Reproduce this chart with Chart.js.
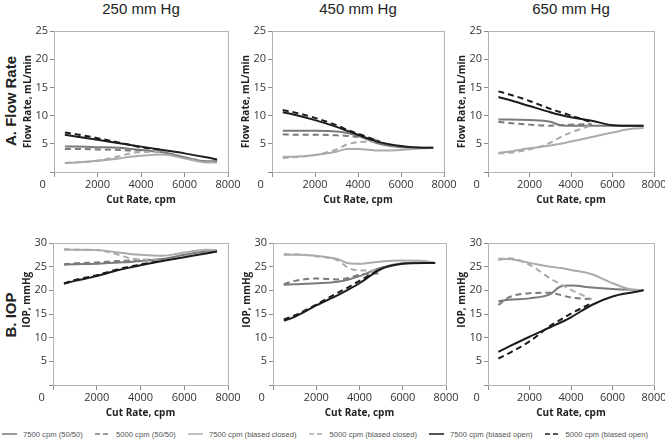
<!DOCTYPE html>
<html>
<head>
<meta charset="utf-8">
<script src="https://cdn.jsdelivr.net/npm/chart.js@4.4.1/dist/chart.umd.min.js"></script>
<style>
  body { margin: 0; background: #fff; width: 665px; height: 440px; position: relative; overflow: hidden; font-family: "Liberation Sans", Arial, sans-serif; }
  canvas { position: absolute; }
  .colTitle { position: absolute; top: 0; font-size: 15px; line-height: 17px; color: #222; transform: translateX(-50%); white-space: nowrap; }
  .rowTitle { position: absolute; font-size: 15px; font-weight: bold; color: #222; white-space: nowrap; transform: translate(-50%, -50%) rotate(-90deg); }
  #legend { position: absolute; left: 2px; top: 428px; width: 646px; height: 12px; display: flex; justify-content: space-between; color: #555; }
  .item { display: flex; align-items: center; white-space: nowrap; }
  .item svg { margin-right: 6px; }
</style>
</head>
<body>
<div id="titles"></div>
<div id="legend"></div>
<script>
// cut rates (cpm) where the curves were read
const cutRate7500 = [500, 1000, 2000, 3000, 3500, 4000, 5000, 6000, 7000, 7500];
const cutRate5000 = [500, 1000, 2000, 3000, 3500, 4000, 5000];
const pressures = ['250 mm Hg', '450 mm Hg', '650 mm Hg'];
const seriesNames = ['7500 cpm (50/50)', '5000 cpm (50/50)', '7500 cpm (biased closed)',
                     '5000 cpm (biased closed)', '7500 cpm (biased open)', '5000 cpm (biased open)'];

// A. Flow rate, mL/min
const flow250_7500_5050   = [4.5, 4.5, 4.4, 4.3, 4.1, 3.9, 3.5, 2.6, 1.9, 1.9];
const flow250_5000_5050   = [4.1, 4.1, 4.0, 3.9, 3.8, 3.8, 3.6];
const flow250_7500_closed = [1.6, 1.7, 2.0, 2.4, 2.7, 2.9, 3.1, 2.4, 1.7, 1.7];
const flow250_5000_closed = [1.6, 1.7, 2.0, 2.8, 3.3, 3.5, 3.6];
const flow250_7500_open   = [6.6, 6.3, 5.7, 5.1, 4.8, 4.5, 3.9, 3.3, 2.6, 2.2];
const flow250_5000_open   = [7.0, 6.7, 6.0, 5.2, 4.8, 4.4, 3.9];

const flow450_7500_5050   = [7.3, 7.3, 7.3, 7.2, 6.9, 6.4, 5.0, 4.4, 4.3, 4.3];
const flow450_5000_5050   = [6.7, 6.6, 6.6, 6.5, 6.4, 6.2, 5.5];
const flow450_7500_closed = [2.7, 2.7, 3.0, 3.6, 4.1, 4.1, 3.8, 3.9, 4.2, 4.3];
const flow450_5000_closed = [2.5, 2.6, 3.0, 4.0, 4.9, 5.3, 5.4];
const flow450_7500_open   = [10.6, 10.2, 9.2, 8.0, 7.3, 6.6, 5.3, 4.6, 4.3, 4.3];
const flow450_5000_open   = [11.0, 10.6, 9.6, 8.3, 7.5, 6.8, 5.4];

const flow650_7500_5050   = [9.3, 9.3, 9.2, 8.9, 8.3, 8.2, 8.2, 8.2, 8.2, 8.2];
const flow650_5000_5050   = [8.9, 8.7, 8.4, 8.2, 8.3, 8.4, 8.5];
const flow650_7500_closed = [3.4, 3.6, 4.2, 4.7, 5.0, 5.4, 6.2, 7.0, 7.7, 7.8];
const flow650_5000_closed = [3.3, 3.4, 4.0, 5.2, 6.2, 7.0, 8.3];
const flow650_7500_open   = [13.3, 12.8, 11.7, 10.6, 10.1, 9.7, 9.1, 8.3, 8.2, 8.2];
const flow650_5000_open   = [14.3, 13.8, 12.6, 11.2, 10.6, 10.0, 8.8];

// B. IOP, mmHg
const iop250_7500_5050   = [25.4, 25.5, 25.6, 25.9, 26.0, 26.2, 26.6, 27.5, 28.2, 28.3];
const iop250_5000_5050   = [25.5, 25.7, 25.9, 26.2, 26.3, 26.4, 26.5];
const iop250_7500_closed = [28.6, 28.6, 28.5, 28.0, 27.7, 27.5, 27.3, 28.0, 28.6, 28.5];
const iop250_5000_closed = [28.7, 28.6, 28.5, 27.5, 26.8, 26.5, 26.5];
const iop250_7500_open   = [21.4, 22.0, 23.0, 24.3, 24.8, 25.3, 26.2, 27.0, 27.8, 28.2];
const iop250_5000_open   = [21.5, 22.2, 23.2, 24.5, 25.0, 25.5, 26.2];

const iop450_7500_5050   = [21.2, 21.3, 21.5, 21.8, 22.3, 23.0, 24.8, 25.7, 25.9, 25.8];
const iop450_5000_5050   = [21.3, 22.0, 22.5, 22.3, 22.6, 23.3, 23.6];
const iop450_7500_closed = [27.5, 27.5, 27.3, 26.6, 25.7, 25.6, 26.1, 26.3, 26.2, 25.8];
const iop450_5000_closed = [27.6, 27.6, 27.2, 26.3, 24.7, 24.2, 24.2];
const iop450_7500_open   = [13.6, 14.4, 16.8, 19.0, 20.2, 21.5, 24.5, 25.6, 25.8, 25.8];
const iop450_5000_open   = [13.8, 14.7, 17.0, 19.5, 20.7, 22.0, 24.6];

const iop650_7500_5050   = [17.7, 18.0, 18.3, 19.2, 20.8, 21.0, 20.6, 20.3, 20.1, 20.0];
const iop650_5000_5050   = [16.9, 18.5, 19.4, 19.5, 19.0, 18.5, 18.1];
const iop650_7500_closed = [26.7, 26.6, 25.8, 25.0, 24.7, 24.3, 23.4, 21.5, 20.1, 20.0];
const iop650_5000_closed = [26.4, 26.8, 25.4, 22.5, 21.3, 20.1, 18.1];
const iop650_7500_open   = [7.0, 8.1, 10.2, 12.2, 13.2, 14.3, 16.9, 18.7, 19.6, 20.0];
const iop650_5000_open   = [5.6, 6.7, 9.2, 12.5, 13.8, 15.1, 17.3];

// line look for each series, same order as seriesNames
const seriesColors = ['#7a7a7a', '#7a7a7a', '#ababab', '#ababab', '#1c1c1c', '#1c1c1c'];
const seriesDashed = [false, true, false, true, false, true];

const tickFont = {family: 'Open Sans', size: 11};
const titleFont = {family: 'Open Sans', size: 10, weight: 'bold'};

// draws the light box round the plot area
const boxPlugin = {
    id: 'box',
    beforeDatasetsDraw(chart) {
        const a = chart.chartArea, ctx = chart.ctx;
        ctx.save();
        ctx.strokeStyle = '#b4b4b4';
        ctx.lineWidth = 1;
        ctx.strokeRect(Math.round(a.left) + 0.5, Math.round(a.top) + 0.5, Math.round(a.right - a.left), Math.round(a.bottom - a.top));
        ctx.restore();
    }
};

function makePanel(area, yMax, yTitle, series) {
    let canvas = document.createElement('canvas');
    let w = area.right - area.left + 54, h = area.bottom - area.top + 44;
    canvas.width = w; canvas.height = h;
    canvas.style.left = (area.left - 40) + 'px';
    canvas.style.top = (area.top - 10) + 'px';
    document.body.appendChild(canvas);

    let datasets = series.map((ys, i) => {
        let xs = i % 2 === 0 ? cutRate7500 : cutRate5000;
        return {
            label: seriesNames[i],
            data: xs.map((x, j) => ({x: x, y: ys[j]})),
            borderColor: seriesColors[i],
            borderWidth: 2,
            borderDash: seriesDashed[i] ? [6, 4] : [],
            pointRadius: 0,
            cubicInterpolationMode: 'monotone',
            fill: false,
            order: 6 - i
        };
    });

    return new Chart(canvas.getContext('2d'), {
        type: 'line',
        data: {datasets: datasets},
        options: {
            responsive: false, animation: false,
            layout: {padding: {top: 10, right: 14, left: 0, bottom: 0}},
            plugins: {legend: {display: false}, tooltip: {enabled: false}},
            scales: {
                x: {
                    type: 'linear', min: 0, max: 8000,
                    afterFit: s => { s.height = 34; },
                    // the corner "0" sits left of the axis in the original, trailing spaces nudge it over
                    ticks: {stepSize: 2000, font: tickFont, color: '#333', padding: 1, maxRotation: 0, autoSkip: false,
                            callback: v => v === 0 ? '0        ' : String(v)},
                    grid: {drawOnChartArea: false, tickLength: 5, color: '#8c8c8c'},
                    border: {color: '#8c8c8c'},
                    title: {display: true, text: 'Cut Rate, cpm', font: titleFont, color: '#222', padding: {top: 2, bottom: 0}}
                },
                y: {
                    min: 0, max: yMax,
                    afterFit: s => { s.width = 40; },
                    ticks: {stepSize: 5, font: tickFont, color: '#333', padding: 2, callback: v => v === 0 ? '' : String(v)},
                    grid: {drawOnChartArea: false, tickLength: 4, color: '#8c8c8c'},
                    border: {color: '#8c8c8c'},
                    title: {display: true, text: yTitle, font: titleFont, color: '#222', padding: {top: 8, bottom: 0}}
                }
            }
        },
        plugins: [boxPlugin]
    });
}

const topAreas = [
    {left: 54, right: 228, top: 31, bottom: 172},
    {left: 272, right: 444, top: 31, bottom: 172},
    {left: 488, right: 654, top: 31, bottom: 172}
];
const bottomAreas = [
    {left: 53, right: 228, top: 243, bottom: 385},
    {left: 273, right: 446, top: 243, bottom: 385},
    {left: 488, right: 654, top: 243, bottom: 385}
];

// the IOP axis title sits a bit above the middle in the original, leading spaces push it up
const iopTitle = '           IOP, mmHg';

makePanel(topAreas[0], 25, 'Flow Rate, mL/min', [flow250_7500_5050, flow250_5000_5050, flow250_7500_closed, flow250_5000_closed, flow250_7500_open, flow250_5000_open]);
makePanel(topAreas[1], 25, 'Flow Rate, mL/min', [flow450_7500_5050, flow450_5000_5050, flow450_7500_closed, flow450_5000_closed, flow450_7500_open, flow450_5000_open]);
makePanel(topAreas[2], 25, 'Flow Rate, mL/min', [flow650_7500_5050, flow650_5000_5050, flow650_7500_closed, flow650_5000_closed, flow650_7500_open, flow650_5000_open]);
makePanel(bottomAreas[0], 30, iopTitle, [iop250_7500_5050, iop250_5000_5050, iop250_7500_closed, iop250_5000_closed, iop250_7500_open, iop250_5000_open]);
makePanel(bottomAreas[1], 30, iopTitle, [iop450_7500_5050, iop450_5000_5050, iop450_7500_closed, iop450_5000_closed, iop450_7500_open, iop450_5000_open]);
makePanel(bottomAreas[2], 30, iopTitle, [iop650_7500_5050, iop650_5000_5050, iop650_7500_closed, iop650_5000_closed, iop650_7500_open, iop650_5000_open]);

// column and row titles
let titles = document.getElementById('titles');
topAreas.forEach((a, i) => {
    let d = document.createElement('div');
    d.className = 'colTitle';
    d.style.left = ((a.left + a.right) / 2) + 'px';
    d.textContent = pressures[i];
    titles.appendChild(d);
});
[['A. Flow Rate', 101], ['B. IOP', 315]].forEach(r => {
    let d = document.createElement('div');
    d.className = 'rowTitle';
    d.style.left = '10px';
    d.style.top = r[1] + 'px';
    d.textContent = r[0];
    titles.appendChild(d);
});

// legend along the bottom; font sized so the first label is about 60px wide
let measure = document.createElement('span');
measure.style.cssText = 'position:absolute;visibility:hidden;font-size:10px;white-space:nowrap';
measure.textContent = seriesNames[0];
document.body.appendChild(measure);
let legendFont = 10 * 60 / measure.getBoundingClientRect().width;
measure.remove();

let legend = document.getElementById('legend');
legend.style.fontSize = legendFont.toFixed(2) + 'px';
seriesNames.forEach((name, i) => {
    let d = document.createElement('div');
    d.className = 'item';
    let dash = seriesDashed[i] ? ' stroke-dasharray="5 3"' : '';
    d.innerHTML = '<svg width="15" height="4"><line x1="0" y1="2" x2="15" y2="2" stroke="' + seriesColors[i] +
        '" stroke-width="1.5"' + dash + '/></svg>' + name;
    legend.appendChild(d);
});
</script>
</body>
</html>
